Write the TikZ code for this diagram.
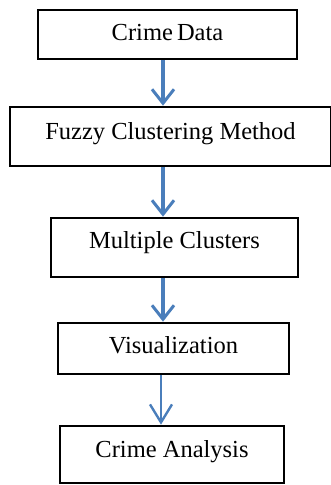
\documentclass[tikz,border=0pt]{standalone}
\usepackage{fontspec}
\setmainfont{Liberation Serif}
\usetikzlibrary{arrows.meta}
\definecolor{arrblue}{RGB}{74,126,187}
\tikzset{
  box/.style={draw=black, line width=2.6pt, minimum width=#1, inner sep=0pt, text depth=0pt, font=\fontsize{24.5}{27}\selectfont, anchor=center},
  flow/.style={draw=arrblue, line width=3.8pt, -{Straight Barb[length=14pt,width=22pt,line width=3pt]}},
  flowthin/.style={draw=arrblue, line width=2.6pt, -{Straight Barb[length=18pt,width=22pt,line width=2.4pt]}}
}
\begin{document}
\begin{tikzpicture}[x=1pt,y=1pt]
\useasboundingbox (0,0) rectangle (330,485);
\node[box=259pt, minimum height=49pt, text height=12pt] (b1) at (167.5,450.5) {Crime\hspace{-2pt} Data};
\node[box=321pt, minimum height=59pt, text height=7pt] (b2) at (170.5,348.5) {Fuzzy Clustering Method};
\node[box=247pt, minimum height=59pt, text height=3pt] (b3) at (174.5,237.5) {Multiple Clusters};
\node[box=231pt, minimum height=51pt, text height=10pt] (b4) at (173.5,136.5) {Visualization};
\node[box=224pt, minimum height=57pt, text height=6pt] (b5) at (172,30.5) {Crime Analysis};
\coordinate (ax) at (163,0);
\coordinate (bx) at (161,0);
\draw[flow] (b1.south -| ax) -- (b2.north -| ax);
\draw[flow] (b2.south -| ax) -- (b3.north -| ax);
\draw[flow] (b3.south -| ax) -- (b4.north -| ax);
\draw[flowthin] (b4.south -| bx) -- (b5.north -| bx);
\end{tikzpicture}
\end{document}
